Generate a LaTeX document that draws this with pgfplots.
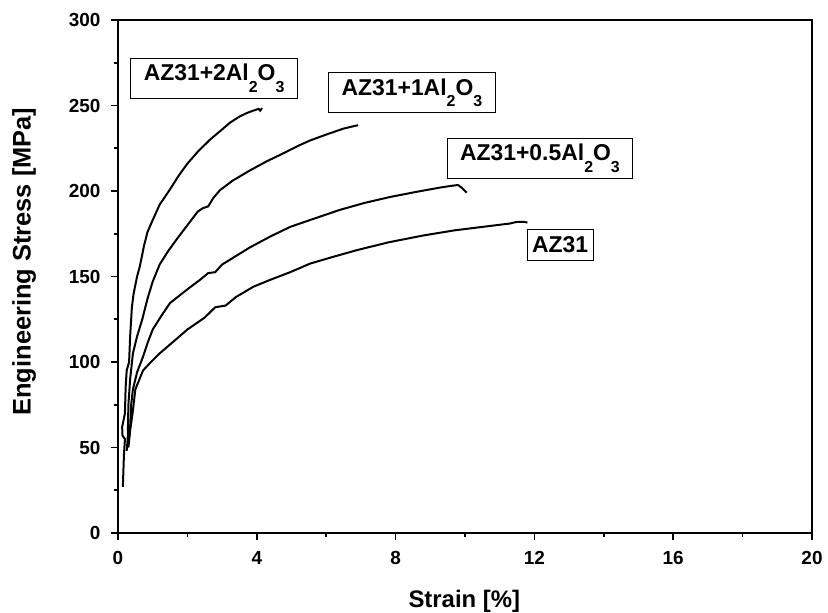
\documentclass[border=0pt]{standalone}
\usepackage{fontspec}
\setmainfont{Liberation Sans}
\usepackage{pgfplots}
\pgfplotsset{compat=1.18}
\tikzset{lbl/.style={draw, line width=1bp, fill=white, inner xsep=13bp, inner ysep=6bp,
        font=\bfseries\fontsize{23}{23}\selectfont}}
\pgfplotsset{curve/.style={black, line width=2bp, no markers}}
\newcommand{\sub}[1]{\raisebox{-0.5em}{\fontsize{16}{16}\selectfont #1}}

\begin{document}
\begin{tikzpicture}
\begin{axis}[
    name=ax, at={(0,0)}, anchor=south west,
    scale only axis, width=694bp, height=513bp,
    xmin=0, xmax=20, ymin=0, ymax=300,
    xtick={0,4,...,20}, ytick={0,50,...,300},
    minor tick num=1,
    xtick pos=bottom, ytick pos=left,
    tick align=outside,
    major tick length=7bp, minor tick length=4bp,
    axis line style={line width=2bp},
    every tick/.style={line width=1.6bp, black},
    /pgf/number format/assume math mode=true,
    ticklabel style={font=\bfseries\fontsize{19}{19}\selectfont},
    xticklabel style={yshift=-8bp},
    yticklabel style={xshift=-7bp},
    xlabel={Strain [\%]}, ylabel={Engineering Stress [MPa]},
    every axis x label/.style={at={(axis description cs:0.499,-0.1326)}, anchor=center,
        font=\bfseries\fontsize{24}{24}\selectfont},
    every axis y label/.style={at={(axis description cs:-0.1354,0.529)}, rotate=90, anchor=center,
        font=\bfseries\fontsize{25.5}{25.5}\selectfont},
]
% AZ31+2Al2O3
\addplot[curve] coordinates {
(0.14,27) (0.17,45) (0.2,55) (0.13,57) (0.12,62) (0.2,70) (0.22,85) (0.25,95)
(0.32,100) (0.35,115) (0.4,132) (0.45,140) (0.55,150) (0.63,156) (0.75,168)
(0.85,176) (1.0,183) (1.2,192) (1.5,201) (1.75,209) (2.0,216) (2.3,223)
(2.65,230) (3.0,236) (3.23,240) (3.5,243.5) (3.7,245.5) (3.9,247) (4.05,248)
(4.1,247) (4.15,248.5)
};
% AZ31+1Al2O3
\addplot[curve] coordinates {
(0.25,48) (0.28,55) (0.3,75) (0.35,90) (0.43,105) (0.55,115) (0.7,125)
(0.85,137) (1.0,147) (1.2,157) (1.45,165) (1.7,172) (2.0,180) (2.3,188)
(2.45,190) (2.6,191) (2.75,196) (2.94,200.5) (3.3,206) (3.8,212) (4.3,217.5)
(4.76,222) (5.2,226.5) (5.53,229.5) (6.0,233) (6.5,236.5) (6.92,238.5)
};
% AZ31+0.5Al2O3
\addplot[curve] coordinates {
(0.3,52) (0.35,62) (0.38,75) (0.43,84) (0.55,94) (0.72,103) (0.85,111)
(1.0,119) (1.25,127) (1.5,134.5) (2.0,142.5) (2.36,148) (2.6,152) (2.8,152.5)
(3.0,157) (3.4,162) (3.8,167) (4.4,173.5) (4.96,179) (5.53,183) (6.4,189)
(7.1,193) (7.84,196.5) (8.6,199.5) (9.28,202) (9.6,203) (9.8,203.5)
(9.9,202) (10.05,199)
};
% AZ31
\addplot[curve] coordinates {
(0.3,50) (0.35,60) (0.42,70) (0.5,84) (0.6,89) (0.72,95) (0.95,100)
(1.2,105) (1.6,112) (2.0,119) (2.5,126) (2.8,132) (3.1,133) (3.4,138)
(3.9,144) (4.38,148) (4.96,152.5) (5.53,157.5) (6.2,161.5) (6.9,165.5)
(7.8,170) (8.8,174) (9.7,177) (10.7,179.5) (11.3,181) (11.5,182)
(11.7,182) (11.8,181.5)
};
\node[lbl] at (axis cs:2.77,266) {AZ31+2Al\sub{2}O\sub{3}};
\node[lbl] at (axis cs:8.47,257.5) {AZ31+1Al\sub{2}O\sub{3}};
\node[lbl] at (axis cs:12.16,219) {AZ31+0.5Al\sub{2}O\sub{3}};
\node[lbl, inner xsep=5bp, inner ysep=7bp] at (axis cs:12.74,168.4) {AZ31};
\end{axis}
\pgfresetboundingbox
\path[use as bounding box] (-118bp,-80bp) rectangle (710bp,533bp);
\end{tikzpicture}
\end{document}
